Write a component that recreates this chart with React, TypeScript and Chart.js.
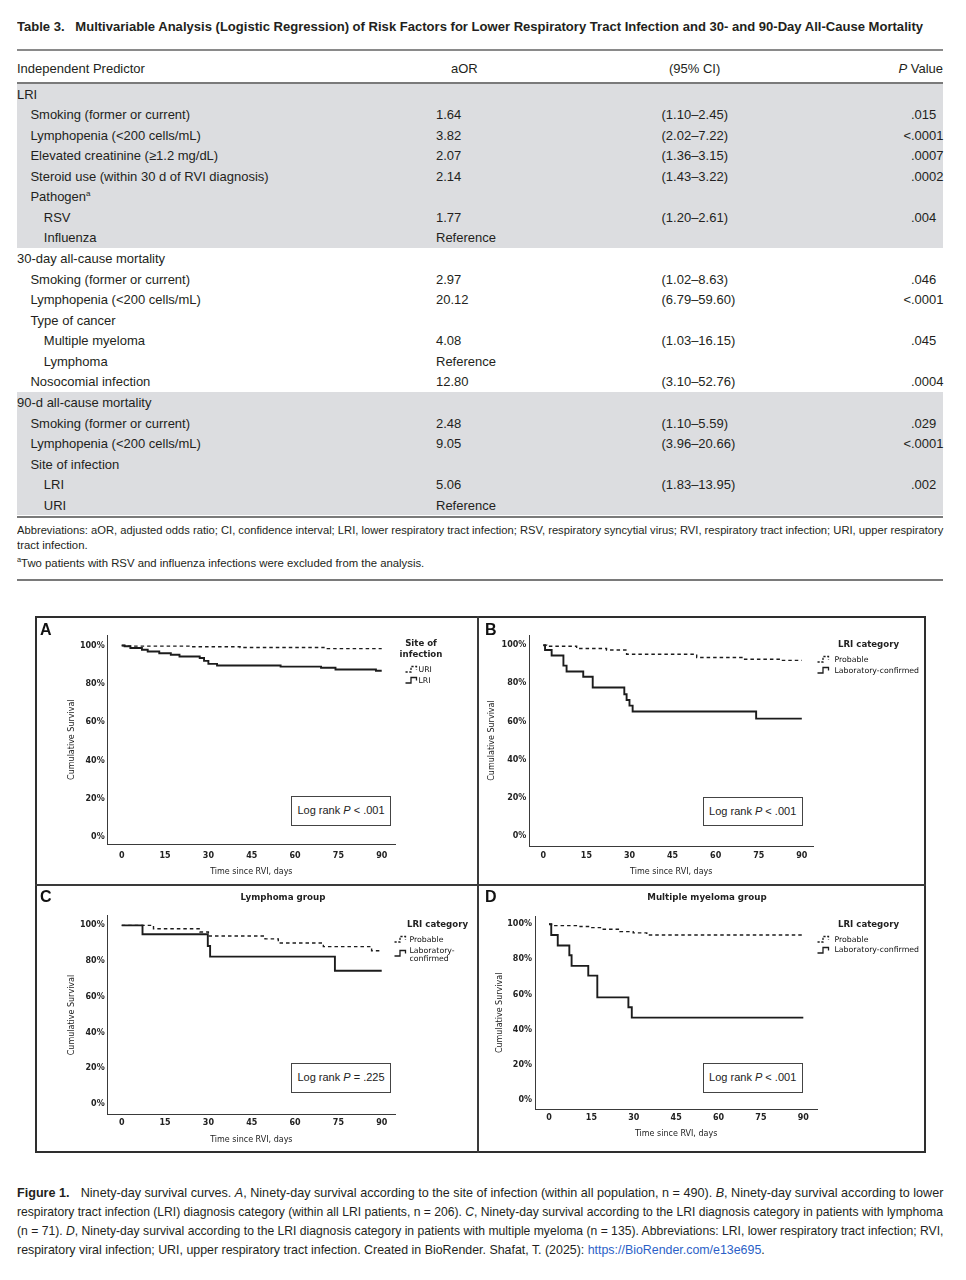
import React, { useEffect, useLayoutEffect, useRef, useState } from "react";
import { Chart, registerables } from "chart.js";

Chart.register(...registerables);

// ---------------- Table data ----------------
const TABLE_LABEL = "Table 3.";
const TABLE_TITLE =
  "Multivariable Analysis (Logistic Regression) of Risk Factors for Lower Respiratory Tract Infection and 30- and 90-Day All-Cause Mortality";
const PREDICTORS = [
  "LRI",
  "Smoking (former or current)",
  "Lymphopenia (<200 cells/mL)",
  "Elevated creatinine (≥1.2 mg/dL)",
  "Steroid use (within 30 d of RVI diagnosis)",
  "Pathogen",
  "RSV",
  "Influenza",
  "30-day all-cause mortality",
  "Smoking (former or current)",
  "Lymphopenia (<200 cells/mL)",
  "Type of cancer",
  "Multiple myeloma",
  "Lymphoma",
  "Nosocomial infection",
  "90-d all-cause mortality",
  "Smoking (former or current)",
  "Lymphopenia (<200 cells/mL)",
  "Site of infection",
  "LRI",
  "URI",
];
const INDENT = [0, 1, 1, 1, 1, 1, 2, 2, 0, 1, 1, 1, 2, 2, 1, 0, 1, 1, 1, 2, 2];
const FOOTMARK = ["", "", "", "", "", "a", "", "", "", "", "", "", "", "", "", "", "", "", "", "", ""];
const AOR = ["", "1.64", "3.82", "2.07", "2.14", "", "1.77", "Reference", "", "2.97", "20.12", "", "4.08", "Reference", "12.80", "", "2.48", "9.05", "", "5.06", "Reference"];
const CI = ["", "(1.10–2.45)", "(2.02–7.22)", "(1.36–3.15)", "(1.43–3.22)", "", "(1.20–2.61)", "", "", "(1.02–8.63)", "(6.79–59.60)", "", "(1.03–16.15)", "", "(3.10–52.76)", "", "(1.10–5.59)", "(3.96–20.66)", "", "(1.83–13.95)", ""];
const PVAL = ["", ".015", "<.0001", ".0007", ".0002", "", ".004", "", "", ".046", "<.0001", "", ".045", "", ".0004", "", ".029", "<.0001", "", ".002", ""];
const SECTION_FIRST_ROW = [0, 8, 15];
const SECTION_ROWS = [8, 7, 6];
const SECTION_SHADED = [true, false, true];

// ---------------- Survival curve data (day, cumulative survival %) ----------------
const X_TICKS = [0, 15, 30, 45, 60, 75, 90];
const Y_TICKS = [0, 20, 40, 60, 80, 100];

const A_URI_DAYS = [0, 2, 24, 41, 70, 90];
const A_URI_SURV = [100, 99.7, 99.4, 99.0, 98.4, 98.4];
const A_LRI_DAYS = [0, 1, 3, 7, 9, 13, 17, 20, 27, 28.5, 30, 33, 55, 69, 74, 88, 90];
const A_LRI_SURV = [100, 99.6, 98.7, 97.8, 96.9, 96.0, 95.2, 94.3, 93.5, 92.0, 90.4, 89.6, 89.0, 88.4, 87.5, 86.8, 86.8];

const B_PROB_DAYS = [0, 1.2, 11.6, 22, 29, 53.4, 69.7, 82.5, 90];
const B_PROB_SURV = [100, 99.5, 98.3, 97.5, 95.3, 93.6, 92.7, 92.1, 92.1];
const B_LAB_DAYS = [0, 0.6, 2.9, 7, 8.1, 13.9, 17.2, 28.2, 29, 30, 31.1, 74.1, 90];
const B_LAB_SURV = [100, 97.5, 94.6, 89.3, 86.2, 83.5, 77.8, 74.3, 71.3, 68.3, 65.2, 61.5, 61.5];

const C_PROB_DAYS = [0, 11, 27.1, 30, 49.6, 54.2, 69.8, 86.5, 90];
const C_PROB_SURV = [100, 98.1, 96.3, 94.0, 92.4, 90.1, 88.1, 85.8, 85.8];
const C_LAB_DAYS = [0, 7.2, 29.8, 30.6, 73.8, 90];
const C_LAB_SURV = [100, 95.0, 88.4, 82.5, 74.6, 74.6];

const D_PROB_DAYS = [0, 0.9, 11, 14.5, 19.2, 25.1, 29.8, 34.6, 90];
const D_PROB_SURV = [100, 99.2, 98.7, 98.1, 97.2, 95.8, 95.1, 93.9, 93.9];
const D_LAB_DAYS = [0, 0.8, 3.1, 7.2, 8, 13.9, 17.1, 28.1, 29.3, 90];
const D_LAB_SURV = [100, 93.9, 87.9, 82.4, 76.3, 70.8, 58.4, 52.8, 46.9, 46.9];

// ---------------- Layout ----------------
const INK = "#231f20";
const LINE = "#1c1c1c";
const F_TEXT = "'Liberation Sans', Arial, Helvetica, sans-serif";
const F_CHART = "'DejaVu Sans', 'Liberation Sans', sans-serif";

const ROW0 = 83.5;
const ROW_H = 20.57;

type Series = { label: string; days: number[]; surv: number[]; dashed: boolean };
type LegendItem = { lines: string[]; dashed: boolean; y: number };
type PanelSpec = {
  letter: string;
  letterX: number;
  letterY: number;
  title?: string;
  titleX?: number;
  titleY?: number;
  canvas: { x: number; y: number; w: number; h: number };
  area: { L: number; T: number; R: number; B: number };
  xMin: number;
  xMax: number;
  yMin: number;
  yMax: number;
  yTitleX: number;
  xTitleY: number;
  xTickPad: number;
  series: Series[];
  legendTitle: string[];
  legendTitleX: number;
  legendTitleY: number;
  legendCenter: boolean;
  glyphX: number;
  textX: number;
  legend: LegendItem[];
  logrank: string;
  boxX: number;
  boxY: number;
};

const PANELS: PanelSpec[] = [
  {
    letter: "A",
    letterX: 40,
    letterY: 630,
    canvas: { x: 37, y: 619, w: 439, h: 264 },
    area: { L: 107.7, T: 635, R: 395, B: 844.3 },
    xMin: -4.85,
    xMax: 94.6,
    yMin: -3.8,
    yMax: 105.5,
    yTitleX: 72.3,
    xTitleY: 872,
    xTickPad: 6.6,
    series: [
      { label: "LRI", days: A_LRI_DAYS, surv: A_LRI_SURV, dashed: false },
      { label: "URI", days: A_URI_DAYS, surv: A_URI_SURV, dashed: true },
    ],
    legendTitle: ["Site of", "infection"],
    legendTitleX: 421,
    legendTitleY: 643.5,
    legendCenter: true,
    glyphX: 405,
    textX: 418.5,
    legend: [
      { lines: ["URI"], dashed: true, y: 669.5 },
      { lines: ["LRI"], dashed: false, y: 680.5 },
    ],
    logrank: "<",
    boxX: 291,
    boxY: 796,
  },
  {
    letter: "B",
    letterX: 485,
    letterY: 630,
    canvas: { x: 480, y: 619, w: 444, h: 264 },
    area: { L: 529.3, T: 635, R: 813.3, B: 846 },
    xMin: -4.88,
    xMax: 94.0,
    yMin: -5.4,
    yMax: 105.4,
    yTitleX: 492.3,
    xTitleY: 872.3,
    xTickPad: 4.9,
    series: [
      { label: "Laboratory-confirmed", days: B_LAB_DAYS, surv: B_LAB_SURV, dashed: false },
      { label: "Probable", days: B_PROB_DAYS, surv: B_PROB_SURV, dashed: true },
    ],
    legendTitle: ["LRI category"],
    legendTitleX: 838,
    legendTitleY: 644.3,
    legendCenter: false,
    glyphX: 817,
    textX: 834.5,
    legend: [
      { lines: ["Probable"], dashed: true, y: 659.5 },
      { lines: ["Laboratory-confirmed"], dashed: false, y: 670.5 },
    ],
    logrank: "<",
    boxX: 702.7,
    boxY: 796.7,
  },
  {
    letter: "C",
    letterX: 40,
    letterY: 896.5,
    title: "Lymphoma group",
    titleX: 283,
    titleY: 897.7,
    canvas: { x: 37, y: 887, w: 439, h: 263 },
    area: { L: 107.7, T: 915.7, R: 395, B: 1114.3 },
    xMin: -4.85,
    xMax: 94.6,
    yMin: -5.8,
    yMax: 105.4,
    yTitleX: 72.3,
    xTitleY: 1140,
    xTickPad: 4.2,
    series: [
      { label: "Laboratory-confirmed", days: C_LAB_DAYS, surv: C_LAB_SURV, dashed: false },
      { label: "Probable", days: C_PROB_DAYS, surv: C_PROB_SURV, dashed: true },
    ],
    legendTitle: ["LRI category"],
    legendTitleX: 407,
    legendTitleY: 924.3,
    legendCenter: false,
    glyphX: 394,
    textX: 409.5,
    legend: [
      { lines: ["Probable"], dashed: true, y: 939.3 },
      { lines: ["Laboratory-", "confirmed"], dashed: false, y: 950.7 },
    ],
    logrank: "=",
    boxX: 291,
    boxY: 1063,
  },
  {
    letter: "D",
    letterX: 485,
    letterY: 896.5,
    title: "Multiple myeloma group",
    titleX: 707,
    titleY: 897.7,
    canvas: { x: 480, y: 887, w: 444, h: 263 },
    area: { L: 535, T: 916.7, R: 817.3, B: 1109 },
    xMin: -4.95,
    xMax: 94.95,
    yMin: -5.1,
    yMax: 104.3,
    yTitleX: 500,
    xTitleY: 1134.3,
    xTickPad: 3.9,
    series: [
      { label: "Laboratory-confirmed", days: D_LAB_DAYS, surv: D_LAB_SURV, dashed: false },
      { label: "Probable", days: D_PROB_DAYS, surv: D_PROB_SURV, dashed: true },
    ],
    legendTitle: ["LRI category"],
    legendTitleX: 838,
    legendTitleY: 924.3,
    legendCenter: false,
    glyphX: 817,
    textX: 834.5,
    legend: [
      { lines: ["Probable"], dashed: true, y: 939.3 },
      { lines: ["Laboratory-confirmed"], dashed: false, y: 950 },
    ],
    logrank: "<",
    boxX: 702.7,
    boxY: 1063,
  },
];
const LOGRANK_VALUE: Record<string, string> = { A: ".001", B: ".001", C: ".225", D: ".001" };

// ---------------- Components ----------------
function KMChart({ spec }: { spec: PanelSpec }) {
  const ref = useRef<HTMLCanvasElement | null>(null);
  useEffect(() => {
    const c = spec.canvas;
    const a = spec.area;
    const titleSize = 8;
    const titleLH = titleSize * 1.2;
    const chart = new Chart(ref.current as HTMLCanvasElement, {
      type: "line",
      data: {
        datasets: spec.series.map((s) => ({
          label: s.label,
          data: s.days.map((d, i) => ({ x: d, y: s.surv[i] })),
          borderColor: LINE,
          borderWidth: s.dashed ? 1.4 : 1.9,
          borderDash: s.dashed ? [3.5, 3] : [],
          stepped: "before" as const,
          pointRadius: 0,
          pointHoverRadius: 0,
          fill: false,
        })),
      },
      options: {
        animation: false,
        responsive: false,
        maintainAspectRatio: false,
        events: [],
        layout: {
          autoPadding: false,
          padding: { left: 0, top: a.T - c.y, right: c.x + c.w - a.R, bottom: 0 },
        },
        plugins: { legend: { display: false }, tooltip: { enabled: false }, title: { display: false } },
        scales: {
          x: {
            type: "linear",
            min: spec.xMin,
            max: spec.xMax,
            afterBuildTicks: (s: any) => {
              s.ticks = X_TICKS.map((v) => ({ value: v }));
            },
            afterFit: (s: any) => {
              s.height = c.y + c.h - a.B;
            },
            grid: { display: false, drawTicks: false },
            border: { display: true, color: "#3a3a3a", width: 1 },
            ticks: {
              font: { family: F_CHART, size: 8, weight: "bold" },
              color: "#222",
              padding: spec.xTickPad,
              maxRotation: 0,
              autoSkip: false,
              callback: (v: any) => String(v),
            },
            title: {
              display: true,
              text: "Time since RVI, days",
              font: { family: F_CHART, size: titleSize },
              color: "#222",
              padding: { top: 0, bottom: c.y + c.h - spec.xTitleY - titleLH / 2 },
            },
          },
          y: {
            type: "linear",
            min: spec.yMin,
            max: spec.yMax,
            afterBuildTicks: (s: any) => {
              s.ticks = Y_TICKS.map((v) => ({ value: v }));
            },
            afterFit: (s: any) => {
              s.width = a.L - c.x;
            },
            grid: { display: false, drawTicks: false },
            border: { display: true, color: "#3a3a3a", width: 1 },
            ticks: {
              font: { family: F_CHART, size: 8, weight: "bold" },
              color: "#222",
              padding: 3,
              autoSkip: false,
              callback: (v: any) => `${v}%`,
            },
            title: {
              display: true,
              text: "Cumulative Survival",
              font: { family: F_CHART, size: titleSize },
              color: "#222",
              padding: { top: spec.yTitleX - c.x - titleLH / 2, bottom: 0 },
            },
          },
        },
      } as any,
    });
    return () => chart.destroy();
  }, [spec]);
  const c = spec.canvas;
  return (
    <canvas
      ref={ref}
      width={c.w}
      height={c.h}
      style={{ position: "absolute", left: c.x, top: c.y, width: c.w, height: c.h }}
    />
  );
}

function Glyph({ x, y, dashed }: { x: number; y: number; dashed: boolean }) {
  return (
    <svg width={16} height={9} style={{ position: "absolute", left: x, top: y - 4.5, overflow: "visible" }}>
      <path
        d="M0.5 7 H6 V1.5 H11.5 V4.5"
        fill="none"
        stroke={LINE}
        strokeWidth={1.3}
        strokeDasharray={dashed ? "2.2 1.6" : undefined}
      />
    </svg>
  );
}

function Txt({
  x,
  cy,
  size,
  children,
  style,
}: {
  x: number;
  cy: number;
  size: number;
  children: React.ReactNode;
  style?: React.CSSProperties;
}) {
  const lh = size * 1.2;
  return (
    <div
      style={{
        position: "absolute",
        left: x,
        top: cy - lh / 2,
        fontSize: size,
        lineHeight: `${lh}px`,
        whiteSpace: "nowrap",
        ...style,
      }}
    >
      {children}
    </div>
  );
}

// One line of condensed-looking text, compressed horizontally to span a given width.
function FitLine({
  left,
  top,
  width,
  size,
  lh,
  bold,
  children,
}: {
  left: number;
  top: number;
  width: number;
  size: number;
  lh: number;
  bold?: boolean;
  children: React.ReactNode;
}) {
  const ref = useRef<HTMLSpanElement | null>(null);
  const [s, setS] = useState(0.8);
  useLayoutEffect(() => {
    const el = ref.current;
    if (el && el.offsetWidth > 0) setS(width / el.offsetWidth);
  }, [width]);
  return (
    <div
      style={{
        position: "absolute",
        left,
        top,
        fontFamily: F_TEXT,
        fontSize: size,
        lineHeight: `${lh}px`,
        fontWeight: bold ? "bold" : "normal",
        whiteSpace: "nowrap",
        transform: `scaleX(${s})`,
        transformOrigin: "0 0",
        color: INK,
      }}
    >
      <span ref={ref} style={{ display: "inline-block" }}>
        {children}
      </span>
    </div>
  );
}

function PanelOverlay({ spec }: { spec: PanelSpec }) {
  return (
    <>
      <Txt x={spec.letterX} cy={spec.letterY} size={16} style={{ fontFamily: F_TEXT, fontWeight: "bold", color: "#111" }}>
        {spec.letter}
      </Txt>
      {spec.title && (
        <Txt
          x={(spec.titleX as number) - 150}
          cy={spec.titleY as number}
          size={8.7}
          style={{ fontFamily: F_CHART, fontWeight: "bold", color: "#222", width: 300, textAlign: "center" }}
        >
          {spec.title}
        </Txt>
      )}
      {spec.legendTitle.map((t, i) => (
        <Txt
          key={"lt" + i}
          x={spec.legendCenter ? spec.legendTitleX - 40 : spec.legendTitleX}
          cy={spec.legendTitleY + i * 10.5}
          size={8.6}
          style={{
            fontFamily: F_CHART,
            fontWeight: "bold",
            color: "#222",
            width: spec.legendCenter ? 80 : undefined,
            textAlign: spec.legendCenter ? "center" : "left",
          }}
        >
          {t}
        </Txt>
      ))}
      {spec.legend.map((it, i) => (
        <React.Fragment key={"li" + i}>
          <Glyph x={spec.glyphX} y={it.y + (it.lines.length > 1 ? 3 : 0)} dashed={it.dashed} />
          {it.lines.map((ln, j) => (
            <Txt key={j} x={spec.textX} cy={it.y + j * 8} size={7.8} style={{ fontFamily: F_CHART, color: "#111" }}>
              {ln}
            </Txt>
          ))}
        </React.Fragment>
      ))}
      <div
        style={{
          position: "absolute",
          left: spec.boxX,
          top: spec.boxY,
          width: 100,
          height: 29.5,
          boxSizing: "border-box",
          border: "1.5px solid #444",
          fontFamily: F_TEXT,
          fontSize: 11,
          lineHeight: "26.5px",
          textAlign: "center",
          color: "#222",
          background: "#fff",
        }}
      >
        Log rank <i>P</i> {spec.logrank} {LOGRANK_VALUE[spec.letter]}
      </div>
    </>
  );
}

function PValue({ v }: { v: string }) {
  if (v.startsWith("<")) {
    return (
      <span style={{ position: "relative" }}>
        <span style={{ position: "absolute", right: "100%" }}>&lt;</span>
        {v.slice(1)}
      </span>
    );
  }
  return <span>{v}</span>;
}

export default function App() {
  const rowTop = (i: number) => ROW0 + i * ROW_H;
  const rowText: React.CSSProperties = {
    position: "absolute",
    lineHeight: `${ROW_H}px`,
    fontSize: 13,
    whiteSpace: "nowrap",
    paddingTop: 1,
  };
  return (
    <div
      style={{
        position: "absolute",
        left: 0,
        top: 0,
        width: 966,
        height: 1280,
        background: "#fff",
        fontFamily: F_TEXT,
        color: INK,
        overflow: "hidden",
      }}
    >
      {/* Table title */}
      <FitLine left={17} top={17.5} width={906} size={13.5} lh={17} bold>
        <span style={{ marginRight: 11 }}>{TABLE_LABEL}</span>
        {TABLE_TITLE}
      </FitLine>

      {/* rules */}
      <div style={{ position: "absolute", left: 17, top: 49, width: 926, height: 1.8, background: "#8a8a8a" }} />
      <div style={{ position: "absolute", left: 17, top: 81.5, width: 926, height: 2, background: "#7a7a7a" }} />

      {/* section shading */}
      {SECTION_FIRST_ROW.map((r, k) =>
        SECTION_SHADED[k] ? (
          <div
            key={"sh" + k}
            style={{
              position: "absolute",
              left: 17,
              top: rowTop(r),
              width: 926,
              height: SECTION_ROWS[k] * ROW_H,
              background: "#dcdde0",
            }}
          />
        ) : null
      )}
      <div style={{ position: "absolute", left: 17, top: 515.5, width: 926, height: 2, background: "#7a7a7a" }} />

      {/* header */}
      <div style={{ ...rowText, left: 17, top: 58 }}>Independent Predictor</div>
      <div style={{ ...rowText, left: 451, top: 58 }}>aOR</div>
      <div style={{ ...rowText, left: 669, top: 58 }}>(95% CI)</div>
      <div style={{ ...rowText, left: 843, width: 100, textAlign: "right", top: 58 }}>
        <i>P</i> Value
      </div>

      {/* rows */}
      {PREDICTORS.map((p, i) => (
        <React.Fragment key={"r" + i}>
          <div style={{ ...rowText, left: 17 + INDENT[i] * 13.4, top: rowTop(i) }}>
            {p}
            {FOOTMARK[i] && <sup style={{ fontSize: 8, lineHeight: 0 }}>{FOOTMARK[i]}</sup>}
          </div>
          {AOR[i] && <div style={{ ...rowText, left: 436, top: rowTop(i) }}>{AOR[i]}</div>}
          {CI[i] && <div style={{ ...rowText, left: 661.5, top: rowTop(i) }}>{CI[i]}</div>}
          {PVAL[i] && (
            <div style={{ ...rowText, left: 911, top: rowTop(i) }}>
              <PValue v={PVAL[i]} />
            </div>
          )}
        </React.Fragment>
      ))}

      {/* table footnotes */}
      <FitLine left={17} top={522.5} width={926} size={11.5} lh={15}>
        Abbreviations: aOR, adjusted odds ratio; CI, confidence interval; LRI, lower respiratory tract infection; RSV,
        respiratory syncytial virus; RVI, respiratory tract infection; URI, upper respiratory
      </FitLine>
      <FitLine left={17} top={537.5} width={71} size={11.5} lh={15}>
        tract infection.
      </FitLine>
      <FitLine left={17} top={555.5} width={407} size={11.5} lh={15}>
        <sup style={{ fontSize: 7.5, lineHeight: 0 }}>a</sup>Two patients with RSV and influenza infections were excluded
        from the analysis.
      </FitLine>
      <div style={{ position: "absolute", left: 17, top: 578.5, width: 926, height: 2, background: "#7a7a7a" }} />

      {/* Figure frame */}
      <div
        style={{
          position: "absolute",
          left: 35,
          top: 616,
          width: 891,
          height: 537,
          boxSizing: "border-box",
          border: "2px solid #2e2e2e",
        }}
      />
      <div style={{ position: "absolute", left: 476.5, top: 616, width: 2, height: 537, background: "#3a3a3a" }} />
      <div style={{ position: "absolute", left: 35, top: 884, width: 891, height: 2, background: "#3a3a3a" }} />

      {PANELS.map((p) => (
        <KMChart key={"c" + p.letter} spec={p} />
      ))}
      {PANELS.map((p) => (
        <PanelOverlay key={"o" + p.letter} spec={p} />
      ))}

      {/* Figure caption */}
      <FitLine left={17} top={1183} width={926} size={13.5} lh={19}>
        <b style={{ marginRight: 12 }}>Figure 1.</b>Ninety-day survival curves. <i>A</i>, Ninety-day survival according
        to the site of infection (within all population, n = 490). <i>B</i>, Ninety-day survival according to lower
      </FitLine>
      <FitLine left={17} top={1202} width={926} size={13.5} lh={19}>
        respiratory tract infection (LRI) diagnosis category (within all LRI patients, n = 206). <i>C</i>, Ninety-day
        survival according to the LRI diagnosis category in patients with lymphoma
      </FitLine>
      <FitLine left={17} top={1221} width={926} size={13.5} lh={19}>
        (n = 71). <i>D</i>, Ninety-day survival according to the LRI diagnosis category in patients with multiple myeloma
        (n = 135). Abbreviations: LRI, lower respiratory tract infection; RVI,
      </FitLine>
      <FitLine left={17} top={1240} width={748} size={13.5} lh={19}>
        respiratory viral infection; URI, upper respiratory tract infection. Created in BioRender. Shafat, T. (2025):{" "}
        <span style={{ color: "#2b5fc7" }}>https://BioRender.com/e13e695</span>.
      </FitLine>
    </div>
  );
}
